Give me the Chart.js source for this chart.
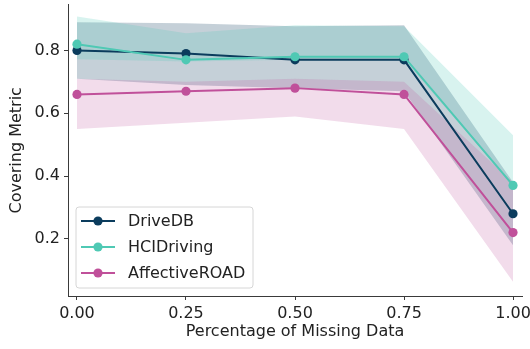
<!DOCTYPE html>
<html>
<head>
<meta charset="utf-8">
<script src="https://cdn.jsdelivr.net/npm/chart.js@4.4.1/dist/chart.umd.min.js"></script>
<style>
  html, body { margin: 0; padding: 0; background: #fff; }
  #wrap { width: 530px; height: 349px; }
</style>
</head>
<body>
<div id="wrap"><canvas id="coverChart" width="530" height="349"></canvas></div>
<script>
// data
var missing = [0.0, 0.25, 0.5, 0.75, 1.0];
var xTickLabels = ["0.00", "0.25", "0.50", "0.75", "1.00"];
var yTicks = [0.2, 0.4, 0.6, 0.8];
var yTickLabels = ["0.2", "0.4", "0.6", "0.8"];

var seriesNames = ["DriveDB", "HCIDriving", "AffectiveROAD"];
var seriesColors = ["#0b3c5d", "#4fc9b4", "#c0509a"];
var bandColors = ["rgba(11,60,93,0.24)", "rgba(79,201,180,0.22)", "rgba(192,80,154,0.2)"];

var driveMean = [0.80, 0.79, 0.77, 0.77, 0.28];
var driveUpper = [0.89, 0.887, 0.877, 0.88, 0.38];
var driveLower = [0.71, 0.69, 0.68, 0.67, 0.18];

var hciMean = [0.82, 0.77, 0.78, 0.78, 0.37];
var hciUpper = [0.908, 0.855, 0.88, 0.877, 0.53];
var hciLower = [0.772, 0.765, 0.77, 0.77, 0.37];

var roadMean = [0.66, 0.67, 0.68, 0.66, 0.22];
var roadUpper = [0.71, 0.70, 0.71, 0.70, 0.38];
var roadLower = [0.55, 0.57, 0.59, 0.55, 0.063];

function pts(arr) {
    return arr.map(function(v, i) { return { x: missing[i], y: v }; });
}

var means = [driveMean, hciMean, roadMean];
var uppers = [driveUpper, hciUpper, roadUpper];
var lowers = [driveLower, hciLower, roadLower];

var datasets = [];
// shaded bands (upper fills down to its lower partner)
for (var i = 0; i < 3; i++) {
    datasets.push({
        label: seriesNames[i] + " upper",
        data: pts(uppers[i]),
        borderWidth: 0,
        pointRadius: 0,
        backgroundColor: bandColors[i],
        fill: "+1",
        order: 10 + (2 - i) * 2
    });
    datasets.push({
        label: seriesNames[i] + " lower",
        data: pts(lowers[i]),
        borderWidth: 0,
        pointRadius: 0,
        fill: false,
        order: 11 + (2 - i) * 2
    });
}
// mean lines with markers
for (var j = 0; j < 3; j++) {
    datasets.push({
        label: seriesNames[j],
        data: pts(means[j]),
        borderColor: seriesColors[j],
        backgroundColor: seriesColors[j],
        borderWidth: 2,
        pointRadius: 4.6,
        pointBorderWidth: 0,
        fill: false,
        order: 2 - j
    });
}

var FONT = "DejaVu Sans";
var FSIZE = 16;
var txt = "#222";
var axisCol = "#3a3a3a";

// legend drawn inside the plot, lower left
var insideLegend = {
    id: "insideLegend",
    afterDraw: function(chart) {
        var ctx = chart.ctx;
        var area = chart.chartArea;
        var bx = area.left + 8, bw = 177, bh = 81;
        var by = area.bottom - 8 - bh;
        ctx.save();
        ctx.beginPath();
        ctx.roundRect(bx, by, bw, bh, 3);
        ctx.fillStyle = "rgba(255,255,255,0.8)";
        ctx.fill();
        ctx.strokeStyle = "#d6d6d6";
        ctx.lineWidth = 1;
        ctx.stroke();
        ctx.font = FSIZE + "px '" + FONT + "'";
        ctx.textBaseline = "middle";
        for (var k = 0; k < seriesNames.length; k++) {
            var cy = by + 14 + k * 26;
            ctx.strokeStyle = seriesColors[k];
            ctx.lineWidth = 2;
            ctx.beginPath();
            ctx.moveTo(bx + 5, cy);
            ctx.lineTo(bx + 39, cy);
            ctx.stroke();
            ctx.fillStyle = seriesColors[k];
            ctx.beginPath();
            ctx.arc(bx + 22, cy, 4.6, 0, Math.PI * 2);
            ctx.fill();
            ctx.fillStyle = txt;
            ctx.fillText(seriesNames[k], bx + 52, cy + 1);
        }
        ctx.restore();
    }
};

new Chart(document.getElementById("coverChart"), {
    type: "line",
    data: { datasets: datasets },
    plugins: [insideLegend],
    options: {
        responsive: false,
        animation: false,
        events: [],
        layout: { padding: { top: 3, right: 8, left: 0, bottom: 0 } },
        plugins: {
            legend: { display: false },
            tooltip: { enabled: false },
            filler: { drawTime: "beforeDatasetsDraw" }
        },
        scales: {
            x: {
                type: "linear",
                min: -0.0206,
                max: 1.0206,
                afterBuildTicks: function(scale) {
                    scale.ticks = missing.map(function(v) { return { value: v }; });
                },
                afterFit: function(scale) {
                    scale.height = 53;
                    scale.paddingLeft = 0;
                    scale.paddingRight = 0;
                },
                ticks: {
                    autoSkip: false,
                    maxRotation: 0,
                    padding: 4,
                    color: txt,
                    font: { family: FONT, size: FSIZE },
                    callback: function(v) {
                        var idx = missing.indexOf(v);
                        return idx >= 0 ? xTickLabels[idx] : "";
                    }
                },
                grid: { drawOnChartArea: false, drawTicks: true, tickLength: 4, color: axisCol },
                border: { display: true, color: axisCol, width: 1 },
                title: {
                    display: true,
                    text: "Percentage of Missing Data",
                    color: txt,
                    font: { family: FONT, size: FSIZE },
                    padding: { top: 2, bottom: 8 }
                }
            },
            y: {
                type: "linear",
                min: 0.018,
                max: 0.946,
                afterBuildTicks: function(scale) {
                    scale.ticks = yTicks.map(function(v) { return { value: v }; });
                },
                afterFit: function(scale) {
                    scale.width = 68;
                    scale.paddingTop = 0;
                    scale.paddingBottom = 0;
                },
                ticks: {
                    autoSkip: false,
                    padding: 4,
                    color: txt,
                    font: { family: FONT, size: FSIZE },
                    callback: function(v) {
                        var idx = yTicks.indexOf(v);
                        return idx >= 0 ? yTickLabels[idx] : "";
                    }
                },
                grid: { drawOnChartArea: false, drawTicks: true, tickLength: 4, color: axisCol },
                border: { display: true, color: axisCol, width: 1 },
                title: {
                    display: true,
                    text: "Covering Metric",
                    color: txt,
                    font: { family: FONT, size: FSIZE },
                    padding: { top: 7, bottom: 4 }
                }
            }
        }
    }
});
</script>
</body>
</html>
